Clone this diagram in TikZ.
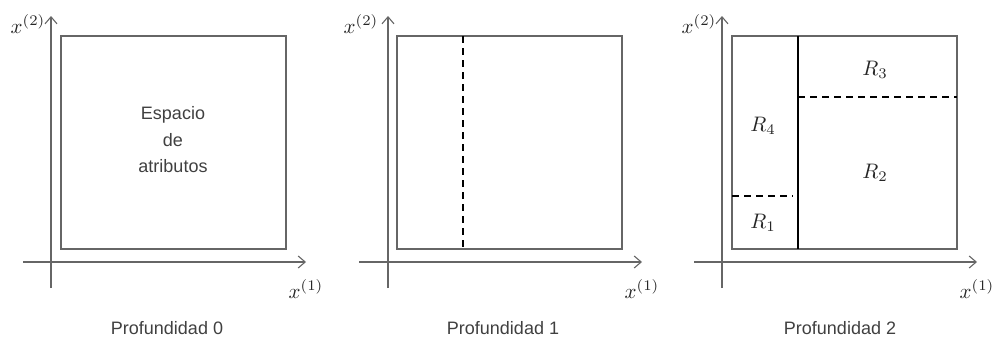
\documentclass[tikz,border=0pt]{standalone}
\usepackage{graphicx}
\usepackage{fontspec}
\setmainfont{Liberation Sans}
\usetikzlibrary{arrows.meta}
\newcommand{\mymath}[1]{\scalebox{2.1}{$#1$}}
\tikzset{
  axis/.style={draw=black!60, line width=1.2pt, -{Straight Barb[length=7pt,width=12pt,line width=1.1pt]}},
  region/.style={draw=black!60, line width=1.6pt},
  cut/.style={draw=black, line width=1.6pt},
  dcut/.style={draw=black, line width=1.6pt, dash pattern=on 7pt off 5pt},
  lab/.style={inner sep=0pt, text=black!75, font=\fontsize{18}{21}\selectfont},
  mlab/.style={inner sep=0pt, text=black!85, font=\normalsize},
}
\begin{document}
\begin{tikzpicture}[x=1pt,y=-1pt]
\useasboundingbox (0,0) rectangle (998,340);
% Panel 1
\coordinate (a1b) at (51,288); \coordinate (a1t) at (51,16);
\coordinate (b1l) at (23,262); \coordinate (b1r) at (306,262);
\draw[axis] (a1b) -- (a1t);
\draw[axis] (b1l) -- (b1r);
\draw[region] (61,36) rectangle (286,249);
\node[lab, align=center, font=\fontsize{18}{26.5}\selectfont] (esp) at (173,140) {Espacio\\de\\atributos};
\node[mlab] (y1) at (28,24) {\mymath{x^{(2)}}};
\node[mlab] (x1) at (306,289) {\mymath{x^{(1)}}};
\node[lab] (p0) at (167,328) {Profundidad 0};
% Panel 2
\coordinate (a2b) at (388,288); \coordinate (a2t) at (388,16);
\coordinate (b2l) at (359,262); \coordinate (b2r) at (642,262);
\draw[axis] (a2b) -- (a2t);
\draw[axis] (b2l) -- (b2r);
\draw[region] (397,36) rectangle (622,249);
\coordinate (d2t) at (463,36); \coordinate (d2b) at (463,249);
\draw[dcut] (d2t) -- (d2b);
\node[mlab] (y2) at (361,24) {\mymath{x^{(2)}}};
\node[mlab] (x2) at (642,289) {\mymath{x^{(1)}}};
\node[lab] (p1) at (503,328) {Profundidad 1};
% Panel 3
\coordinate (a3b) at (722,288); \coordinate (a3t) at (722,16);
\coordinate (b3l) at (694,262); \coordinate (b3r) at (977,262);
\draw[axis] (a3b) -- (a3t);
\draw[axis] (b3l) -- (b3r);
\draw[region] (732,36) rectangle (957,249);
\coordinate (c3t) at (798,36); \coordinate (c3b) at (798,249);
\draw[cut] (c3t) -- (c3b);
\coordinate (h3l) at (798,97); \coordinate (h3r) at (957,97);
\draw[dcut] (h3l) -- (h3r);
\coordinate (g3l) at (732,196); \coordinate (g3r) at (793,196);
\draw[dcut] (g3l) -- (g3r);
\node[mlab] (r3) at (875,70) {\mymath{R_3}};
\node[mlab] (r4) at (763,126) {\mymath{R_4}};
\node[mlab] (r2) at (875,173) {\mymath{R_2}};
\node[mlab] (r1) at (763,223) {\mymath{R_1}};
\node[mlab] (y3) at (699,24) {\mymath{x^{(2)}}};
\node[mlab] (x3) at (977,289) {\mymath{x^{(1)}}};
\node[lab] (p2) at (840,328) {Profundidad 2};
\end{tikzpicture}
\end{document}
